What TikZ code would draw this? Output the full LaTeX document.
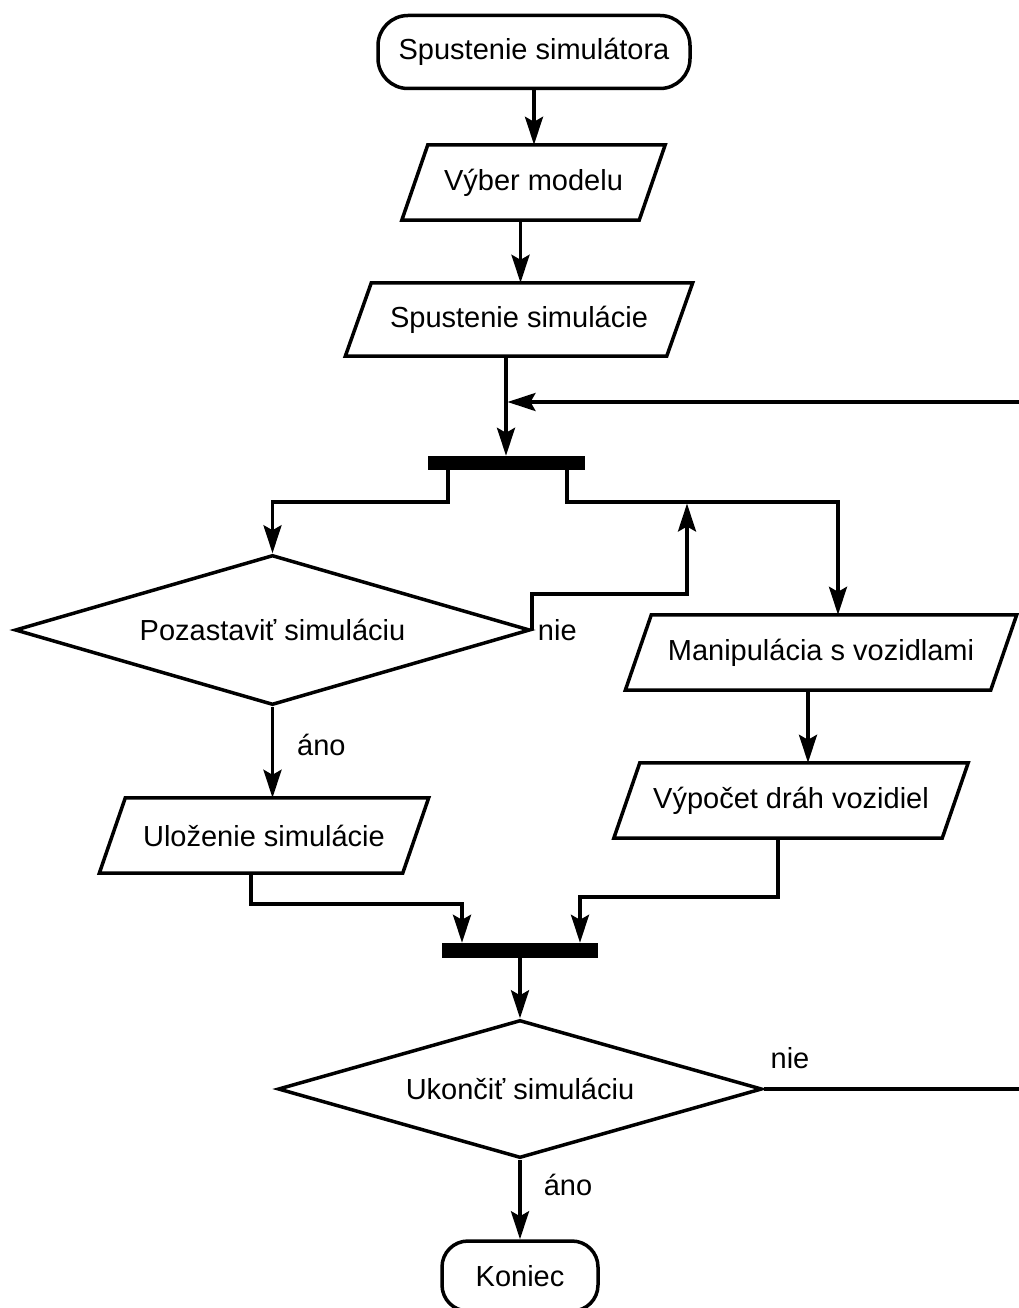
\documentclass[tikz,border=0pt]{standalone}
\usepackage{fontspec}
\setmainfont{Liberation Sans}
\usetikzlibrary{shapes.geometric,arrows.meta,calc}
\begin{document}
\begin{tikzpicture}[x=1pt,y=-1pt,
  every node/.style={font=\fontsize{29}{33}\selectfont},
  lw/.style={line width=3.5pt},
  arr/.style={lw,-{Stealth[length=28pt,width=18pt,inset=5pt]}},
  term/.style={draw,lw,rectangle,inner sep=0pt},
  iobox/.style={rectangle,inner sep=0pt,minimum height=75pt},
  dec/.style={draw,lw,diamond,inner sep=0pt},
  bar/.style={fill=black,draw=none,rectangle,inner sep=0pt},
  lbl/.style={inner sep=0pt}
]
\useasboundingbox (0,0) rectangle (1019,1308);

% nodes
\node[term,rounded corners=30pt,minimum width=312pt,minimum height=73pt] (start) at (534,52) {Spustenie simulátora};
\node[iobox,minimum width=237pt] (p1) at (533.5,182.5) {Výber modelu};
\node[iobox,minimum width=321pt,minimum height=73pt] (p2) at (519,319.5) {Spustenie simulácie};
\node[bar,minimum width=157pt,minimum height=14pt] (b1) at (506.5,463) {};
\node[dec,shape aspect=3.43,minimum width=515pt,minimum height=150pt] (d1) at (272.5,630) {Pozastaviť simuláciu};
\node[iobox,minimum width=365pt] (p3) at (821,652.5) {Manipulácia s vozidlami};
\node[iobox,minimum width=328pt] (p4) at (791,800.5) {Výpočet dráh vozidiel};
\node[iobox,minimum width=303pt] (p5) at (264,835.5) {Uloženie simulácie};
\node[bar,minimum width=156pt,minimum height=15pt] (b2) at (520,950.5) {};
\node[dec,shape aspect=3.5,minimum width=484pt,minimum height=138pt] (d2) at (520,1089) {Ukončiť simuláciu};
\node[term,rounded corners=26pt,minimum width=156pt,minimum height=70pt] (end) at (520,1276) {Koniec};

% parallelogram outlines
\foreach \n in {p1,p2,p3,p4,p5}
  \draw[lw,line join=miter] ([xshift=13pt]\n.north west) -- ([xshift=13pt]\n.north east)
     -- ([xshift=-13pt]\n.south east) -- ([xshift=-13pt]\n.south west) -- cycle;

% labels
\node[lbl,anchor=west] (l1) at ([xshift=6pt]d1.east) {nie};
\node[lbl,anchor=west] (l2) at (297,745) {áno};
\node[lbl] (l3) at (790,1058) {nie};
\node[lbl] (l4) at (568,1185) {áno};

% junction coordinates
\coordinate (j1) at (687,503.5);
\coordinate (j2) at (507.5,402);

% connectors
\draw[arr] (start.south) -- (start.south |- p1.north);
\draw[arr] ([xshift=-13pt]p1.south) -- ([xshift=-13pt]p1.south |- p2.north);
\draw[arr] ([xshift=-13pt]p2.south) -- ([xshift=-13pt]p2.south |- b1.north);
\draw[arr] ([xshift=-58.5pt]b1.south) -- ++(0,32) -| (d1.north);
\draw[arr] ([xshift=60.5pt]b1.south) -- ++(0,32) -| ([xshift=17pt]p3.north);
\draw[arr] (d1.east) -- ++(0,-36) -| (j1);
\draw[arr] (d1.south) -- (d1.south |- p5.north);
\draw[arr] ([xshift=-13pt]p3.south) -- ([xshift=-13pt]p3.south |- p4.north);
\draw[arr] ([xshift=-13pt]p4.south) -- ++(0,59) -| ([xshift=60pt]b2.north);
\draw[arr] ([xshift=-13pt]p5.south) -- ++(0,31) -| ([xshift=-58pt]b2.north);
\draw[arr] (b2.south) -- (d2.north);
\draw[arr] (d2.east) -- (1040,1089) -- (1040,402) -- (j2);
\draw[arr] (d2.south) -- (end.north);
\end{tikzpicture}
\end{document}
